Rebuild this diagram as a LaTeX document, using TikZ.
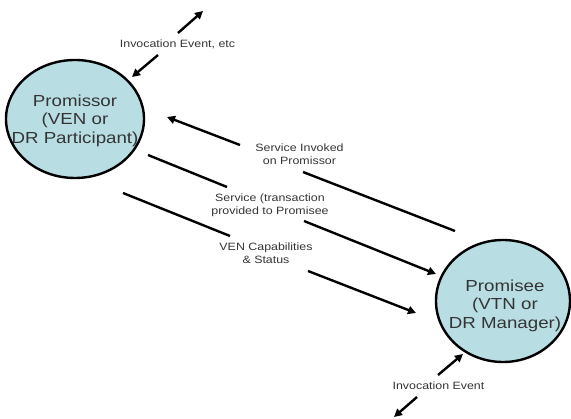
\documentclass[tikz,border=0pt]{standalone}
\usepackage{fontspec}
\setmainfont{Liberation Sans}[FakeStretch=1.17]
\usetikzlibrary{shapes.geometric,arrows.meta}

\definecolor{partyfill}{RGB}{184,222,228}
\definecolor{txtgray}{RGB}{52,52,52}
\newcommand\partyfont{\fontsize{16}{18.5}\selectfont}
\newcommand\labelfont{\fontsize{10.6}{13}\selectfont}

\tikzset{
  party/.style={ellipse, draw=black, line width=2.4pt, fill=partyfill, inner sep=0pt},
  partytext/.style={font=\partyfont, text=txtgray, align=center, inner sep=0pt},
  flowlabel/.style={font=\labelfont, text=txtgray, align=center, inner sep=0pt},
  flowline/.style={line width=2.4pt},
  flow/.style={flowline, -{Triangle[length=8pt,width=8pt]}},
}

\begin{document}
\begin{tikzpicture}[x=1pt,y=-1pt]
\useasboundingbox (0,0) rectangle (571,419);

% the two parties
\node[party, minimum width=138pt, minimum height=118pt] (promissor) at (75,119) {};
\node[partytext] (promissor-name) at (75,120.5) {Promissor\\(VEN or\\DR Participant)};
\node[party, minimum width=134pt, minimum height=122pt] (promisee) at (503,301) {};
\node[partytext] (promisee-name) at (505,305.6) {Promisee\\(VTN or\\DR Manager)};

% labels on the flows
\node[flowlabel] (inv-top) at (177.5,44.7) {Invocation Event, etc};
\node[flowlabel] (svc-invoked) at (299.5,154.7) {Service Invoked\\on Promissor};
\node[flowlabel] (svc-provided) at (270,205.3) {Service (transaction\\provided to Promisee};
\node[flowlabel] (ven-caps) at (266,253.5) {VEN Capabilities\\\& Status};
\node[flowlabel] (inv-bottom) at (438.5,385.7) {Invocation Event};

% end points of the broken connectors
\coordinate (a-out) at (203,11);
\coordinate (a-hi) at (178,33);
\coordinate (a-lo) at (158,55);
\coordinate (a-in) at (132,77);

\coordinate (b-start) at (455,231);
\coordinate (b-lo) at (303,172);
\coordinate (b-hi) at (240,145);
\coordinate (b-end) at (167,117);

\coordinate (c-start) at (148,155);
\coordinate (c-hi) at (227,187);
\coordinate (c-lo) at (304,221);
\coordinate (c-end) at (436,274);

\coordinate (d-start) at (123,193);
\coordinate (d-hi) at (230,236);
\coordinate (d-lo) at (308,271);
\coordinate (d-end) at (416,313);

\coordinate (e-in) at (463,354);
\coordinate (e-hi) at (438,375);
\coordinate (e-lo) at (417,397);
\coordinate (e-out) at (394,417);

% invocation into the promissor
\draw[flow] (a-hi) -- (a-out);
\draw[flow] (a-lo) -- (a-in);

% service invoked on the promissor
\draw[flowline] (b-start) -- (b-lo);
\draw[flow] (b-hi) -- (b-end);

% service provided to the promisee
\draw[flowline] (c-start) -- (c-hi);
\draw[flow] (c-lo) -- (c-end);

% capabilities and status
\draw[flowline] (d-start) -- (d-hi);
\draw[flow] (d-lo) -- (d-end);

% invocation at the promisee
\draw[flow] (e-hi) -- (e-in);
\draw[flow] (e-lo) -- (e-out);
\end{tikzpicture}
\end{document}
